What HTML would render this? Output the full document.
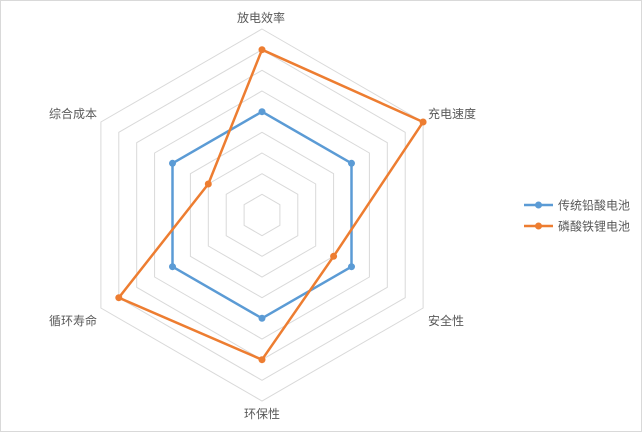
<!DOCTYPE html>
<html><head><meta charset="utf-8"><style>
html,body{margin:0;padding:0;background:#fff}
svg{display:block}
text{font-family:"Liberation Sans","Noto Sans CJK SC",sans-serif;font-size:12px;fill:#595959}
</style></head><body>
<svg width="642" height="432" viewBox="0 0 642 432">
<rect x="0.5" y="0.5" width="641" height="431" fill="#fff" stroke="#d9d9d9"/>
<g fill="none" stroke="#d9d9d9" stroke-width="1">
<polygon points="262,194.3 279.9,204.7 279.9,225.3 262,235.7 244.1,225.3 244.1,204.7"/>
<polygon points="262,173.7 297.8,194.3 297.8,235.7 262,256.3 226.2,235.7 226.2,194.3"/>
<polygon points="262,153 315.7,184 315.7,246 262,277 208.3,246 208.3,184"/>
<polygon points="262,132.3 333.6,173.7 333.6,256.3 262,297.7 190.4,256.3 190.4,173.7"/>
<polygon points="262,111.7 351.5,163.3 351.5,266.7 262,318.3 172.5,266.7 172.5,163.3"/>
<polygon points="262,91 369.4,153 369.4,277 262,339 154.6,277 154.6,153"/>
<polygon points="262,70.3 387.3,142.7 387.3,287.3 262,359.7 136.7,287.3 136.7,142.7"/>
<polygon points="262,49.7 405.2,132.3 405.2,297.7 262,380.3 118.8,297.7 118.8,132.3"/>
<polygon points="262,29 423.1,122 423.1,308 262,401 100.9,308 100.9,122"/>
</g>
<polygon points="262,111.7 351.5,163.3 351.5,266.7 262,318.3 172.5,266.7 172.5,163.3" fill="none" stroke="#5b9bd5" stroke-width="2.5" stroke-linejoin="round"/>
<g fill="#5b9bd5">
<circle cx="262" cy="111.7" r="3.5"/><circle cx="351.5" cy="163.3" r="3.5"/><circle cx="351.5" cy="266.7" r="3.5"/><circle cx="262" cy="318.3" r="3.5"/><circle cx="172.5" cy="266.7" r="3.5"/><circle cx="172.5" cy="163.3" r="3.5"/>
</g>
<polygon points="262,49.7 423.1,122 333.6,256.3 262,359.7 118.8,297.7 208.3,184" fill="none" stroke="#ed7d31" stroke-width="2.5" stroke-linejoin="round"/>
<g fill="#ed7d31">
<circle cx="262" cy="49.7" r="3.5"/><circle cx="423.1" cy="122" r="3.5"/><circle cx="333.6" cy="256.3" r="3.5"/><circle cx="262" cy="359.7" r="3.5"/><circle cx="118.8" cy="297.7" r="3.5"/><circle cx="208.3" cy="184" r="3.5"/>
</g>
<text x="261" y="22" text-anchor="middle">放电效率</text>
<text x="428" y="118">充电速度</text>
<text x="428" y="325">安全性</text>
<text x="262" y="418" text-anchor="middle">环保性</text>
<text x="97" y="325" text-anchor="end">循环寿命</text>
<text x="97" y="118" text-anchor="end">综合成本</text>
<line x1="524" y1="205" x2="553" y2="205" stroke="#5b9bd5" stroke-width="2.5"/>
<circle cx="538.5" cy="205" r="3.5" fill="#5b9bd5"/>
<text x="558" y="209.5">传统铅酸电池</text>
<line x1="524" y1="226" x2="553" y2="226" stroke="#ed7d31" stroke-width="2.5"/>
<circle cx="538.5" cy="226" r="3.5" fill="#ed7d31"/>
<text x="558" y="230.5">磷酸铁锂电池</text>
</svg>
</body></html>
